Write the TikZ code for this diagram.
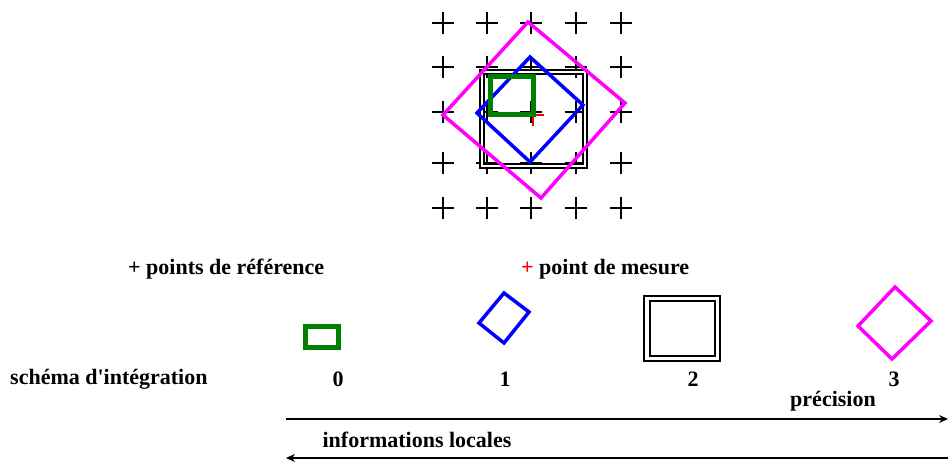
\documentclass[tikz,border=0pt]{standalone}
\usepackage{fontspec}
\setmainfont{Liberation Serif}
\usepackage{tikz}
\usetikzlibrary{arrows.meta}
\definecolor{vert}{RGB}{0,128,0}
\definecolor{bleu}{RGB}{0,0,255}
\definecolor{rose}{RGB}{255,0,255}
\tikzset{
	lbl/.style={font=\fontsize{22}{24}\selectfont\bfseries, inner sep=0pt},
	refplus/.style={line width=1.8pt, black},
	carre/.style={double, double distance=2.6pt, line width=1.5pt}
}

\begin{document}
\begin{tikzpicture}[x=1pt,y=-1pt]
			\useasboundingbox (0,0) rectangle (948,462);
			% grille des points de reference
			\foreach \x in { 443,487,531,576,621 }
			\foreach \y in { 23,67,112,163,208 }
			\draw[refplus] (\x - 11,\y) -- (\x + 11,\y) (\x,\y - 11) -- (\x,\y + 11);
			% schemas superposes
			\draw[carre] (482,72) rectangle (585,166);
			\draw[rose, line width=3.5pt] (528,22) -- (625,103) -- (541,198) -- (443,115) -- cycle;
			\draw[bleu, line width=3.5pt] (530,57) -- (583,105) -- (530,162) -- (477,113) -- cycle;
			% point de mesure
			\draw[red, line width=1.8pt] (522,115) -- (544,115) (533,104) -- (533,126);
			\draw[vert, line width=5pt] (490,77) rectangle (533,115);
			% legende
			\node[lbl, anchor=west] (ref) at (128,269) {+ points de r\'ef\'erence};
			\node[lbl, anchor=west] (mes) at (521,269) {\textcolor{red}{+} point de mesure};
			\node[lbl, anchor=west] (schema) at (10,379) {sch\'ema d\textquotesingle int\'egration};
			\draw[vert, line width=5pt] (305.5,326.5) rectangle (338.5,347.5);
			\draw[bleu, line width=3.5pt] (504,293) -- (529,312) -- (504,343) -- (479,323) -- cycle;
			\draw[carre, line width=2pt, double distance=3.2pt] (647,298.5) rectangle (717.5,358.5);
			\draw[rose, line width=3.5pt] (895,287) -- (931,321) -- (892,359) -- (858,326) -- cycle;
			\foreach \n / \x in { 0 / 338,1 / 505,2 / 693,3 / 894 }
			\node[lbl] (s\n) at (\x,379) {\n};
			\node[lbl] (prec) at (833,401) {pr\'ecision};
			\node[lbl] (info) at (417,440) {informations locales};
			\coordinate (a1) at (286,419);
			\coordinate (b1) at (948,419);
			\coordinate (a2) at (948,458);
			\coordinate (b2) at (286,458);
			\draw[line width=1.2pt, -{Stealth[length=9pt,width=8pt]}] (a1) -- (b1);
			\draw[line width=1.2pt, -{Stealth[length=9pt,width=8pt]}] (a2) -- (b2);
	\end{tikzpicture}
\end{document}
